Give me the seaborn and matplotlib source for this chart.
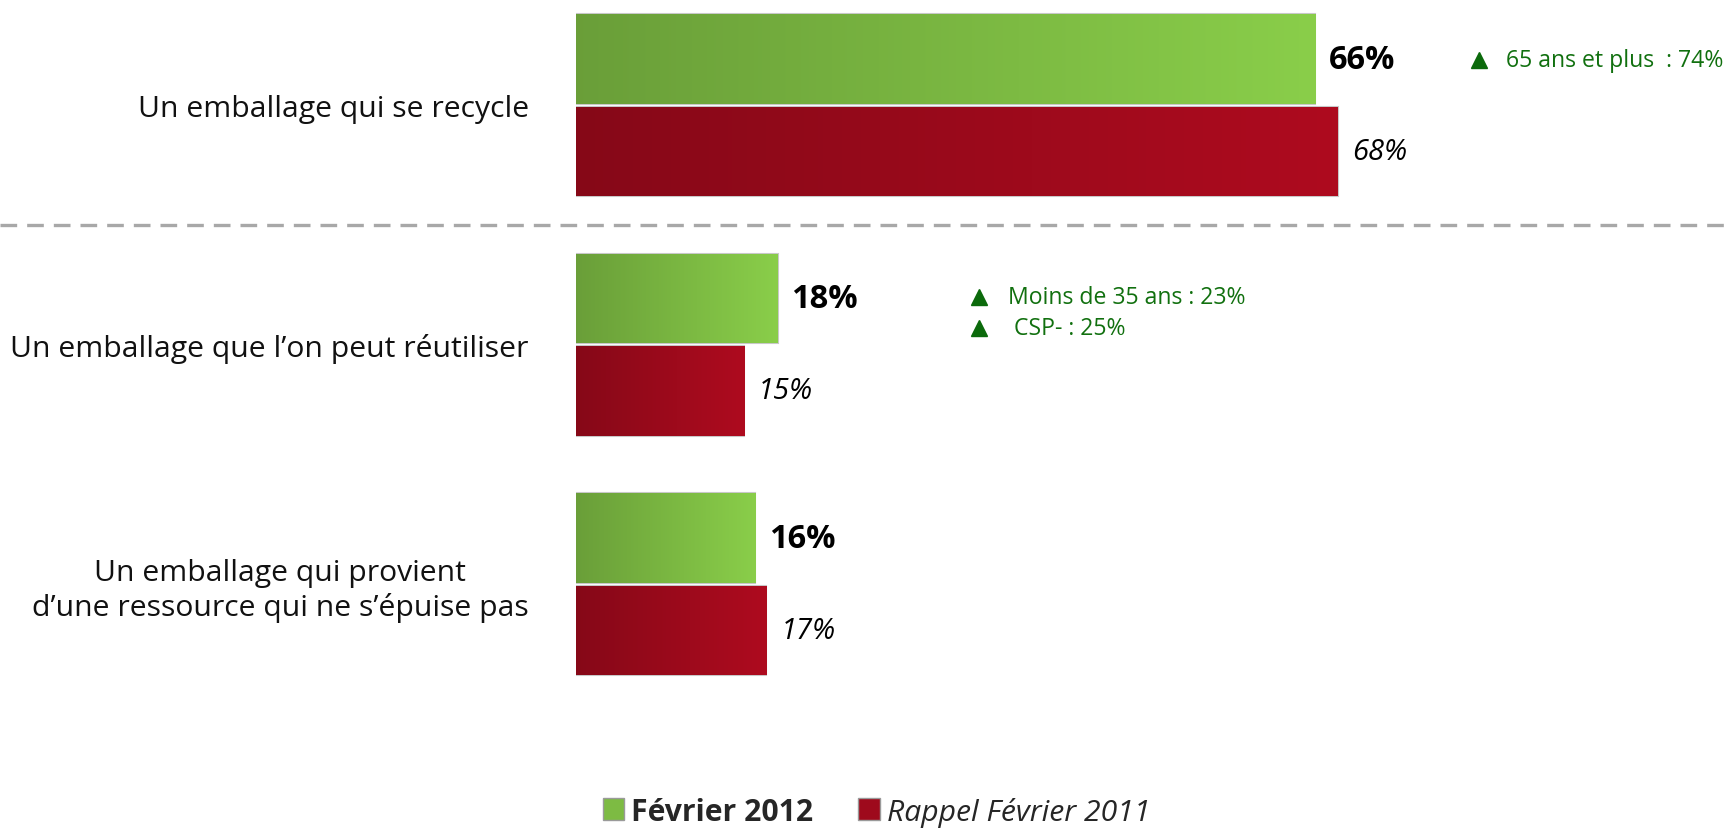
import matplotlib
matplotlib.use("Agg")
import matplotlib.pyplot as plt
from matplotlib.lines import Line2D
from matplotlib.patches import Patch
import numpy as np
import pandas as pd
import seaborn as sns

# data
categories = [
    "Un emballage qui se recycle",
    "Un emballage que l\u2019on peut réutiliser",
    "Un emballage qui provient\nd\u2019une ressource qui ne s\u2019épuise pas",
]
series = ["Février 2012", "Rappel Février 2011"]
values_2012 = [66, 18, 16]
values_2011 = [68, 15, 17]
notes = [
    (0, ["65 ans et plus  : 74%"]),
    (1, ["Moins de 35 ans : 23%", " CSP- : 25%"]),
]

green = "#7DBB43"
red = "#9E0A1C"
note_green = "#11700F"

df = pd.DataFrame({
    "categorie": categories * 2,
    "serie": [series[0]] * 3 + [series[1]] * 3,
    "valeur": values_2012 + values_2011,
})

sns.set_theme(style="white")
plt.rcParams["font.family"] = ["Open Sans", "DejaVu Sans"]

fig = plt.figure(figsize=(17.31, 8.29), dpi=100)
ax = fig.add_axes([576 / 1731, 124 / 829, 1155 / 1731, 705 / 829])

sns.barplot(data=df, y="categorie", x="valeur", hue="serie", order=categories,
            hue_order=series, palette=[green, red], width=0.77, gap=0.03,
            edgecolor="#C8C8C8", linewidth=1.5, legend=False, ax=ax)

ax.set_xlabel("")
ax.set_ylabel("")
ax.set_xticks([])
sns.despine(ax=ax, left=True, bottom=True)
ax.tick_params(axis="y", length=0, pad=34, labelsize=21.7, labelcolor="#111111")
for lab in ax.get_yticklabels():
    lab.set_multialignment("center")

# light gradient on each bar, clipped to the bar shape
for patch, base in zip(ax.patches, [green] * 3 + [red] * 3):
    x0, y0 = patch.get_x(), patch.get_y()
    w, h = patch.get_width(), patch.get_height()
    rgb = np.array(matplotlib.colors.to_rgb(base))
    t = np.linspace(0, 1, 64)
    grad = np.clip(rgb * (0.85 + 0.25 * t[None, :, None]), 0, 1)
    img = ax.imshow(grad, extent=[x0, x0 + w, y0 + h, y0], aspect="auto",
                    zorder=patch.get_zorder() + 0.1, interpolation="bilinear")
    img.set_clip_path(patch)
ax.set_xlim(0, 103.1)
ax.set_ylim(2.5, -0.443)

# value labels
for container, (weight, style, size) in zip(ax.containers,
                                            [("bold", "normal", 23.5),
                                             ("normal", "italic", 21)]):
    for bar in container:
        ax.annotate(f"{bar.get_width():.0f}%",
                    (bar.get_width(), bar.get_y() + bar.get_height() / 2),
                    xytext=(10, 0), textcoords="offset points", va="center",
                    ha="left", fontsize=size, fontweight=weight,
                    fontstyle=style, color="black", zorder=5)

# significance notes
note_pos = {0: (80.6, 83.0, [-0.19]), 1: (36.0, 38.6, [0.80, 0.93])}
for idx, lines in notes:
    xm, xt, ys = note_pos[idx]
    for line, yy in zip(lines, ys):
        ax.plot(xm, yy, marker="^", color="#0B6A0B", markersize=11, clip_on=False)
        ax.text(xt, yy, line, color=note_green, fontsize=16.6, va="center", ha="left")

# dashed separator
fig.add_artist(Line2D([0, 1], [1 - 226 / 829] * 2, transform=fig.transFigure,
                      color="#A8A8A8", linewidth=2.4, linestyle=(0, (5, 3))))

handles = [Patch(facecolor=green, edgecolor="#9A9A9A"),
           Patch(facecolor=red, edgecolor="#9A9A9A")]
leg = fig.legend(handles, series, loc="center", bbox_to_anchor=(0.5064, 0.0198),
                 ncol=2, frameon=False, fontsize=21.7, handlelength=0.7,
                 handleheight=0.7, handletextpad=0.25, columnspacing=1.5,
                 borderpad=0)
leg.get_texts()[0].set_fontweight("bold")
leg.get_texts()[1].set_fontstyle("italic")

fig.savefig("out.png", dpi=100)
